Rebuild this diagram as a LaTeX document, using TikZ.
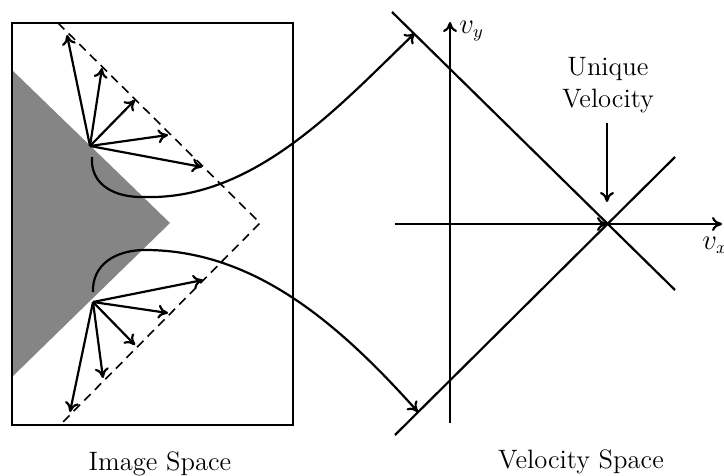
\documentclass[tikz,border=0pt]{standalone}
\usetikzlibrary{arrows.meta}
\begin{document}
\begin{tikzpicture}[x=0.5pt,y=-0.5pt,
  lbl/.style={font=\fontsize{13.3}{16}\selectfont, inner sep=0pt},
  tip/.style={-{To[length=5pt,width=7pt]}},
  vec/.style={line width=1.1pt,tip},
  frame/.style={line width=1.4pt},
  axis/.style={line width=1.1pt},
  dashline/.style={line width=0.8pt,dash pattern=on 4.5pt off 3pt},
  shade/.style={fill=black!48, draw=none}]
\useasboundingbox (0,0) rectangle (724,476);
% left panel
\fill[shade] (12,70) -- (170,223) -- (12,377) -- cycle;
\draw[frame] (12,23) rectangle (293,425);
\coordinate (dTop) at (58,23);
\coordinate (dApex) at (260,223);
\coordinate (dBot) at (60,425);
\draw[dashline] (dTop) -- (dApex) -- (dBot);
% upper fan
\coordinate (o1) at (90,146);
\foreach \px/\py [count=\i] in {67/35,102/68,135/100,168/135,202/167}
  \coordinate (u\i) at (\px,\py);
\foreach \i in {1,...,5} \draw[vec] (o1) -- (u\i);
% lower fan
\coordinate (o2) at (93,302);
\foreach \px/\py [count=\i] in {203/280,168/313,135/345,103/378,70/412}
  \coordinate (l\i) at (\px,\py);
\foreach \i in {1,...,5} \draw[vec] (o2) -- (l\i);
% right panel
\coordinate (vyB) at (450,423);
\coordinate (vyT) at (450,22);
\coordinate (vxL) at (395,224);
\coordinate (vxR) at (722,224);
\coordinate (uv) at (607,224);
\draw[axis,tip] (vyB) -- (vyT);
\draw[axis,tip] (vxL) -- (vxR);
\draw[vec] (vxL) -- (uv);
\coordinate (a1) at (392,12);
\coordinate (a2) at (675,290);
\coordinate (b1) at (395,435);
\coordinate (b2) at (675,157);
\draw[axis] (a1) -- (a2);
\draw[axis] (b1) -- (b2);
\node[lbl, anchor=west] (vy) at (459,31) {$v_y$};
\node[lbl, anchor=west] (vx) at (702,245) {$v_x$};
\node[lbl, align=center] (uvl) at (608,85) {Unique\\Velocity};
\coordinate (uvA) at (607,123);
\coordinate (uvB) at (607,202);
\draw[vec] (uvA) -- (uvB);
% mapping curves
\coordinate (c1s) at (92,157);
\coordinate (c1e) at (415,33);
\coordinate (c2s) at (93,292);
\coordinate (c2e) at (418,412);
\draw[vec] (c1s) .. controls (90,185) and (115,198) .. (145,197)
  .. controls (255,200) and (340,105) .. (c1e);
\draw[vec] (c2s) .. controls (92,265) and (115,250) .. (145,250)
  .. controls (255,250) and (340,325) .. (c2e);
% captions
\node[lbl, anchor=base] (is) at (160,470) {Image Space};
\node[lbl, anchor=base] (vs) at (581,468) {Velocity Space};
\end{tikzpicture}
\end{document}
